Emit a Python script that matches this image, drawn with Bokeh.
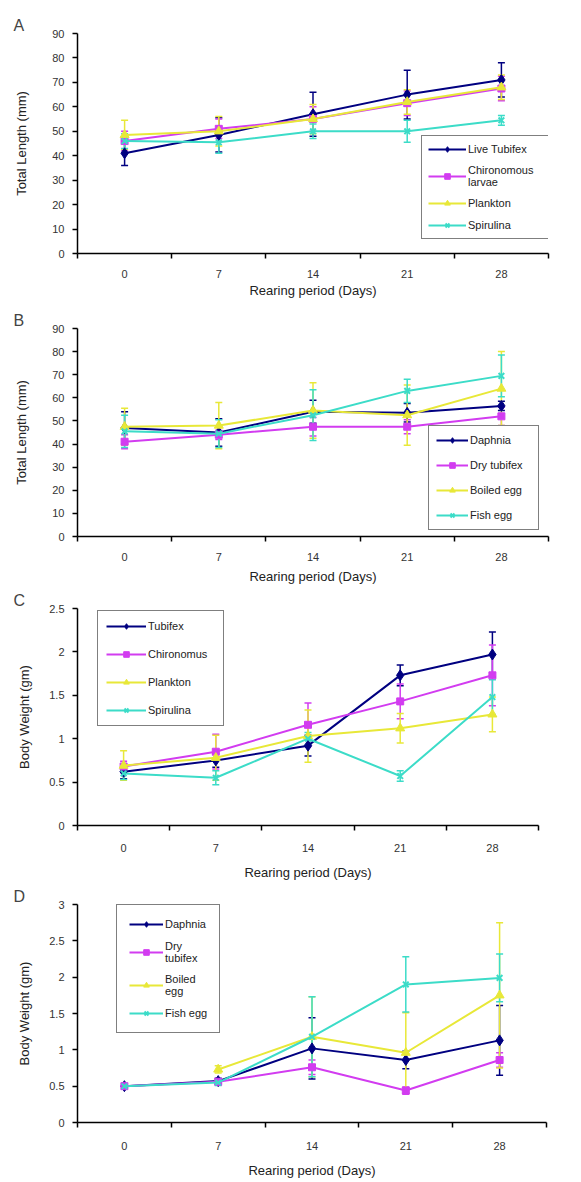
from bokeh.plotting import figure
from bokeh.layouts import column
from bokeh.models import (Range1d, FixedTicker, Whisker, TeeHead, ColumnDataSource,
                          Legend, LegendItem, NumeralTickFormatter)
from bokeh.embed import file_html
from bokeh.resources import INLINE
import math

# ---------------- data ----------------
days = [0, 7, 14, 21, 28]
x_title = "Rearing period (Days)"

# Panel A: Total length (mm)
a_labels = ["Live Tubifex", "Chironomous\nlarvae", "Plankton", "Spirulina"]
a_tubifex = [41, 48.5, 57, 65, 71]
a_tubifex_err = [5, 7, 9, 10, 7]
a_chiro = [46, 51, 55, 61.5, 67.5]
a_chiro_err = [4, 4, 5, 5, 5]
a_plankton = [48.5, 50, 55, 62, 68]
a_plankton_err = [6, 6, 6, 5, 5]
a_spirulina = [46, 45.5, 50, 50, 54.5]
a_spirulina_err = [3, 4.5, 3, 4.5, 2]

# Panel B: Total length (mm)
b_labels = ["Daphnia", "Dry tubifex", "Boiled egg", "Fish egg"]
b_daphnia = [47, 45, 54, 53.5, 56.5]
b_daphnia_err = [7, 6, 5, 4, 2]
b_dry = [41, 44, 47.5, 47.5, 52]
b_dry_err = [3, 2, 4, 3, 4]
b_boiled = [47.5, 48, 54.5, 52.5, 64]
b_boiled_err = [8, 10, 12, 13, 16]
b_fish = [45.5, 44.5, 52.5, 63, 69.5]
b_fish_err = [7, 6, 11, 5, 9]

# Panel C: Body weight (gm)
c_labels = ["Tubifex", "Chironomus", "Plankton", "Spirulina"]
c_tubifex = [0.62, 0.75, 0.92, 1.73, 1.97]
c_tubifex_err = [0.08, 0.08, 0.12, 0.12, 0.26]
c_chiro = [0.68, 0.85, 1.16, 1.43, 1.73]
c_chiro_err = [0.06, 0.2, 0.25, 0.2, 0.35]
c_plankton = [0.69, 0.78, 1.03, 1.12, 1.28]
c_plankton_err = [0.17, 0.26, 0.3, 0.17, 0.2]
c_spirulina = [0.6, 0.55, 1.0, 0.57, 1.48]
c_spirulina_err = [0.07, 0.08, 0.07, 0.06, 0.2]

# Panel D: Body weight (gm)
d_labels = ["Daphnia", "Dry\ntubifex", "Boiled\negg", "Fish egg"]
d_daphnia = [0.5, 0.57, 1.02, 0.86, 1.13]
d_daphnia_err = [0, 0.04, 0.42, 0.12, 0.48]
d_dry = [0.5, 0.56, 0.76, 0.44, 0.86]
d_dry_err = [0, 0.03, 0.1, 0.05, 0.1]
d_boiled = [float("nan"), 0.73, 1.18, 0.96, 1.75]
d_boiled_err = [0, 0.05, 0.55, 0.55, 1.0]
d_fish = [0.5, 0.55, 1.18, 1.9, 1.99]
d_fish_err = [0, 0.04, 0.55, 0.38, 0.33]

# ---------------- style ----------------
COLORS = ["#000080", "#D23CF0", "#E8E838", "#3CDCC8"]
MARKERS = ["diamond", "square", "triangle", "x"]
MSIZES = [11, 7, 9, 8]
FONT = "Liberation Sans"


def make_panel(letter, ylabel, ymax, ystep, fmt, labels, series, geo):
    p = figure(frame_width=geo["fw"], frame_height=geo["fh"],
               output_backend="svg", toolbar_location=None,
               x_range=Range1d(days[0] - 3.5, days[-1] + 3.5), y_range=Range1d(0, ymax),
               min_border_left=77, min_border_right=565 - 77 - geo["fw"],
               min_border_top=geo["t"], min_border_bottom=geo["b"])
    p.xgrid.visible = False
    p.ygrid.visible = False
    p.outline_line_color = None
    p.background_fill_color = "white"
    p.border_fill_color = "white"

    p.title.text = letter
    p.title.text_font = FONT
    p.title.text_font_size = "16px"
    p.title.text_font_style = "normal"
    p.title.align = "left"
    p.title.offset = -64
    p.title.standoff = 0

    bounds = [d - 3.5 for d in days] + [days[-1] + 3.5]
    xa = p.xaxis[0]
    xa.ticker = FixedTicker(ticks=days, minor_ticks=bounds)
    xa.major_tick_out = 0
    xa.major_tick_in = 0
    xa.minor_tick_out = 5
    xa.minor_tick_in = 0
    xa.minor_tick_line_color = "black"
    xa.minor_tick_line_width = 1.5
    xa.axis_line_width = 1.5
    xa.axis_line_color = "black"
    xa.major_label_standoff = geo["ls"]
    xa.major_label_text_font = FONT
    xa.major_label_text_font_size = "11px"
    xa.major_label_text_color = "#333333"
    xa.axis_label = x_title
    xa.axis_label_text_font = FONT
    xa.axis_label_text_font_size = "13px"
    xa.axis_label_text_font_style = "normal"
    xa.axis_label_text_color = "#222222"
    xa.axis_label_standoff = geo["ts"]

    ya = p.yaxis[0]
    nt = int(round(ymax / ystep))
    ya.ticker = FixedTicker(ticks=[i * ystep for i in range(nt + 1)], minor_ticks=[])
    ya.formatter = NumeralTickFormatter(format=fmt)
    ya.major_tick_out = 5
    ya.major_tick_in = 0
    ya.major_tick_line_width = 1.5
    ya.axis_line_width = 1.5
    ya.axis_line_color = "black"
    ya.major_label_standoff = 8
    ya.major_label_text_font = FONT
    ya.major_label_text_font_size = "11px"
    ya.major_label_text_color = "#333333"
    ya.axis_label = ylabel
    ya.axis_label_text_font = FONT
    ya.axis_label_text_font_size = "13px"
    ya.axis_label_text_font_style = "normal"
    ya.axis_label_text_color = "#222222"
    ya.axis_label_standoff = geo["ys"]

    for (vals, errs), c in zip(series, COLORS):
        xs, up, lo = [], [], []
        for d, v, e in zip(days, vals, errs):
            if not math.isnan(v) and e > 0:
                xs.append(d)
                up.append(v + e)
                lo.append(v - e)
        src = ColumnDataSource(dict(x=xs, upper=up, lower=lo))
        w = Whisker(base="x", upper="upper", lower="lower", source=src,
                    line_color=c, line_width=1.5,
                    upper_head=TeeHead(size=7, line_color=c, line_width=1.5),
                    lower_head=TeeHead(size=7, line_color=c, line_width=1.5))
        p.add_layout(w)

    items = []
    for (vals, errs), c, m, ms, lab in zip(series, COLORS, MARKERS, MSIZES, labels):
        src = ColumnDataSource(dict(x=days, y=vals))
        lr = p.line("x", "y", source=src, line_color=c, line_width=2)
        sr = p.scatter("x", "y", source=src, marker=m, size=ms, fill_color=c,
                       line_color=c, line_width=2 if m == "x" else 1)
        items.append(LegendItem(label=lab, renderers=[lr, sr]))

    lg = Legend(items=items, location=geo["loc"], orientation="vertical")
    lg.border_line_color = "black"
    lg.border_line_width = 1
    lg.background_fill_color = "white"
    lg.background_fill_alpha = 1
    lg.label_text_font = FONT
    lg.label_text_font_size = "11px"
    lg.label_text_color = "#222222"
    lg.glyph_width = geo["gw"]
    lg.glyph_height = 14
    lg.label_height = 14
    lg.label_width = geo["lw"]
    lg.label_standoff = 2
    lg.spacing = geo["sp"]
    lg.padding = geo["pad"]
    lg.margin = 0
    p.add_layout(lg, "center")
    return p


pa = make_panel("A", "Total Length (mm)", 90, 10, "0", a_labels,
                [(a_tubifex, a_tubifex_err), (a_chiro, a_chiro_err),
                 (a_plankton, a_plankton_err), (a_spirulina, a_spirulina_err)],
                dict(fw=471, fh=220, t=33, b=48, ls=11, ts=2, ys=20,
                     loc=(344, 14), gw=38, lw=86, sp=8, pad=6))
pb = make_panel("B", "Total Length (mm)", 90, 10, "0", b_labels,
                [(b_daphnia, b_daphnia_err), (b_dry, b_dry_err),
                 (b_boiled, b_boiled_err), (b_fish, b_fish_err)],
                dict(fw=471, fh=208, t=27, b=50, ls=11, ts=5, ys=20,
                     loc=(351, 6), gw=32, lw=61, sp=11, pad=7))
pc = make_panel("C", "Body Weight (gm)", 2.5, 0.5, "0.[0]", c_labels,
                [(c_tubifex, c_tubifex_err), (c_chiro, c_chiro_err),
                 (c_plankton, c_plankton_err), (c_spirulina, c_spirulina_err)],
                dict(fw=461, fh=217, t=22, b=57, ls=13, ts=10, ys=14,
                     loc=(20, 99), gw=40, lw=67, sp=14, pad=8))
pd_ = make_panel("D", "Body Weight (gm)", 3, 0.5, "0.[0]", d_labels,
                 [(d_daphnia, d_daphnia_err), (d_dry, d_dry_err),
                  (d_boiled, d_boiled_err), (d_fish, d_fish_err)],
                 dict(fw=469, fh=218, t=22, b=56, ls=14, ts=10, ys=14,
                      loc=(39, 89), gw=34, lw=42, sp=9, pad=12))

layout = column(pa, pb, pc, pd_, spacing=0)
open("out.html", "w").write(file_html(layout, INLINE))
